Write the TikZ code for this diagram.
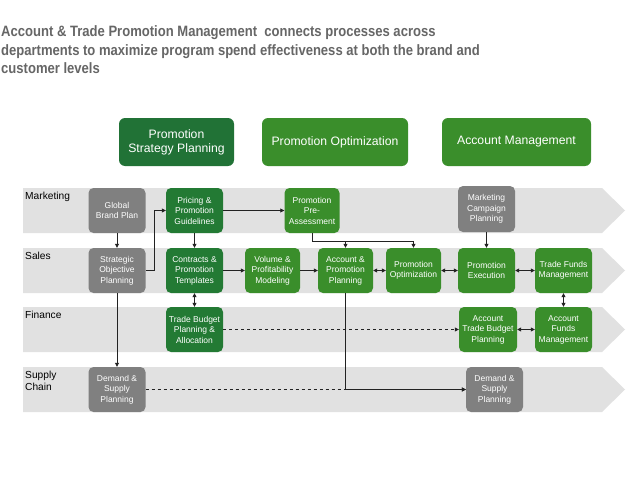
\documentclass[tikz,border=0pt]{standalone}
\usepackage{fontspec}
\setmainfont{Liberation Sans}
\usetikzlibrary{arrows.meta}
\definecolor{lanegray}{HTML}{E1E1E1}
\definecolor{boxgray}{HTML}{808080}
\definecolor{dkgreen}{HTML}{237A34}
\definecolor{hdgreen}{HTML}{217236}
\definecolor{ltgreen}{HTML}{3A8E2B}
\definecolor{titlegray}{HTML}{666666}
\definecolor{linecol}{HTML}{222222}
\begin{document}
\begin{tikzpicture}[x=1pt,y=-1pt,
  box/.style={rounded corners=5pt, minimum width=57pt, minimum height=45pt, text=white,
    font=\fontsize{8.5}{10.5}\selectfont, align=center, inner sep=1pt},
  graybox/.style={box, fill=boxgray},
  dkbox/.style={box, fill=dkgreen},
  grbox/.style={box, fill=ltgreen},
  header/.style={rounded corners=6pt, minimum height=48pt, text=white,
    font=\fontsize{12.2}{14}\selectfont, align=center, inner sep=1pt},
  lane/.style={fill=lanegray},
  lanelabel/.style={anchor=north west, font=\fontsize{10.2}{11.7}\selectfont, align=left, inner sep=0pt, text=black},
  titleline/.style={anchor=base west, inner sep=0pt, text=titlegray, font=\bfseries\fontsize{15}{18}\selectfont},
  conn/.style={draw=linecol, line width=0.8pt},
  arr/.style={conn, -{Triangle[length=4pt,width=4pt]}},
  darr/.style={conn, {Triangle[length=4pt,width=4pt]}-{Triangle[length=4pt,width=4pt]}},
]
\useasboundingbox (0,0) rectangle (638,479);
\fill[white] (0,0) rectangle (638,479);

% title
\node[titleline] (t1) at (1,36) {\scalebox{0.87}[1]{Account \& Trade Promotion Management\ \ connects processes across}};
\node[titleline] (t2) at (1,55) {\scalebox{0.87}[1]{departments to maximize program spend effectiveness at both the brand and}};
\node[titleline] (t3) at (1,73.5) {\scalebox{0.87}[1]{customer levels}};

% headers
\node[header, fill=hdgreen, minimum width=115pt] (h1) at (176.5,142) {Promotion\\Strategy Planning};
\node[header, fill=ltgreen, minimum width=146pt] (h2) at (335,142) {Promotion Optimization};
\node[header, fill=ltgreen, minimum width=149pt] (h3) at (516.5,142) {Account Management};

% lanes
\foreach \yc in {210.5,270.5,329.5,389.5}{
  \fill[lane] (23,\yc-22.5) -- (602,\yc-22.5) -- (625,\yc) -- (602,\yc+22.5) -- (23,\yc+22.5) -- cycle;
}
\node[lanelabel] (lm) at (25,192) {Marketing};
\node[lanelabel] (ls) at (25,252) {Sales};
\node[lanelabel] (lf) at (25,311) {Finance};
\node[lanelabel] (lc) at (25,371) {Supply\\Chain};

% marketing row
\node[graybox] (gbp) at (117,210.5) {Global\\Brand Plan};
\node[dkbox] (ppg) at (194.5,210.5) {Pricing \&\\Promotion\\Guidelines};
\node[grbox, minimum width=55pt] (ppa) at (312,210.5) {Promotion\\Pre-\\Assessment};
\node[graybox, minimum height=46pt] (mcp) at (486.5,209) {Marketing\\Campaign\\Planning};

% sales row
\node[graybox] (sop) at (117,270.5) {Strategic\\Objective\\Planning};
\node[dkbox] (cpt) at (194.5,270.5) {Contracts \&\\Promotion\\Templates};
\node[grbox, minimum width=55pt] (vpm) at (272.5,270.5) {Volume \&\\Profitability\\Modeling};
\node[grbox, minimum width=55pt] (app) at (345.5,270.5) {Account \&\\Promotion\\Planning};
\node[grbox, minimum width=55pt] (pop) at (413.5,270.5) {Promotion\\Optimization};
\node[grbox] (pex) at (486.5,270.5) {Promotion\\Execution};
\node[grbox] (tfm) at (563.5,270.5) {Trade Funds\\Management};

% finance row
\node[dkbox] (tbp) at (194.5,329.5) {Trade Budget\\Planning \&\\Allocation};
\node[grbox, minimum width=58pt] (atb) at (488,329.5) {Account\\Trade Budget\\Planning};
\node[grbox] (afm) at (563.5,329.5) {Account\\Funds\\Management};

% supply chain row
\node[graybox] (dsp1) at (117,389.5) {Demand \&\\Supply\\Planning};
\node[graybox] (dsp2) at (494.5,389.5) {Demand \&\\Supply\\Planning};

% connectors
\draw[arr] (gbp) -- (sop);
\draw[arr] (sop.east) -- ++(9,0) |- (ppg.west);
\draw[arr] (ppg) -- (cpt);
\draw[arr] (ppg) -- (ppa);
\draw[darr] (cpt) -- (tbp);
\draw[arr] (cpt) -- (vpm);
\draw[arr] (vpm) -- (app);
\draw[darr] (app) -- (pop);
\draw[darr] (pop) -- (pex);
\draw[darr] (pex) -- (tfm);
\draw[darr] (tfm) -- (afm);
\draw[darr] (atb) -- (afm);
\coordinate (jp) at (312,241);
\draw[arr] (ppa.south) -- (jp) -| (pop.north);
\draw[arr] (app.north |- jp) -- (app.north);
\draw[arr] (mcp) -- (pex);
\draw[arr] (sop) -- (dsp1);
\draw[arr, dashed] (dsp1) -- (dsp2);
\draw[arr] (app.south) |- (dsp2.west);
\draw[arr, dashed] (tbp) -- (atb);
\end{tikzpicture}
\end{document}
